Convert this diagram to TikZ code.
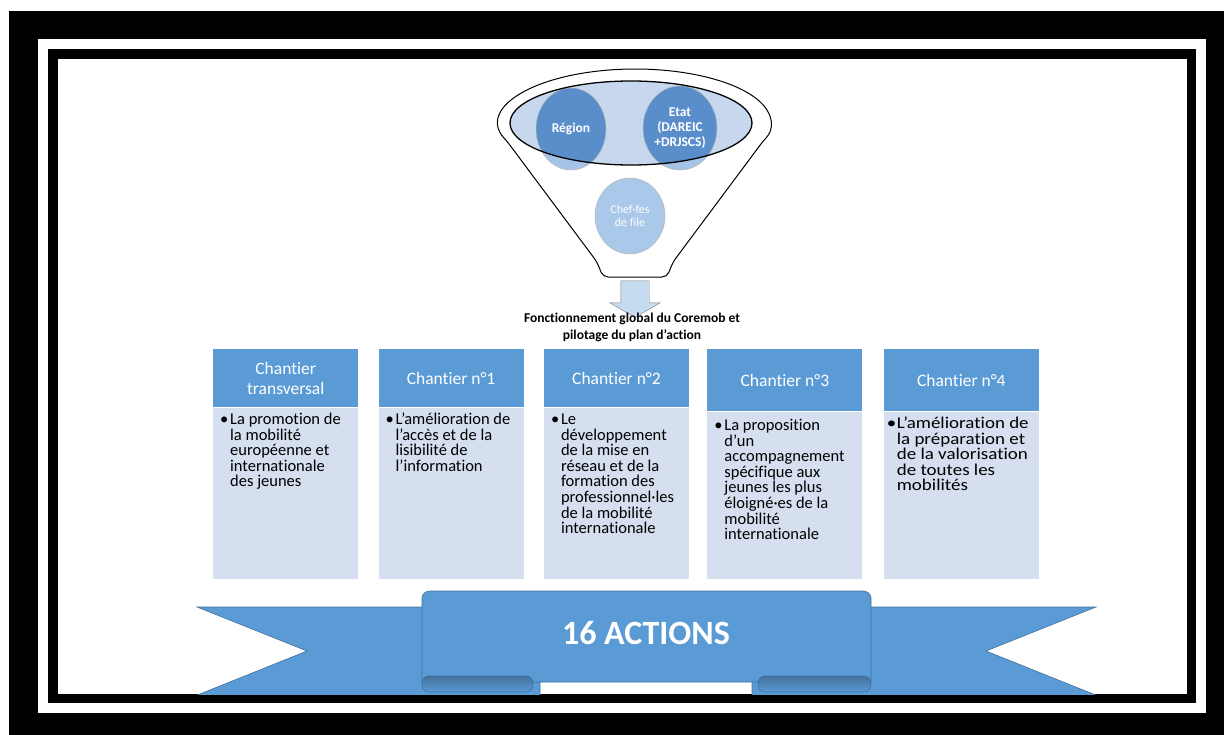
\documentclass[tikz,border=0pt]{standalone}
\usepackage{fontspec}
\setmainfont{Carlito}[Ligatures=NoCommon, Contextuals=NoAlternate]
\usepackage{xcolor}
\usepackage{tikz}
\usetikzlibrary{shapes,positioning}

\definecolor{bleu}{HTML}{5B9BD5}
\definecolor{bleufonce}{HTML}{41719C}
\definecolor{fond}{HTML}{D5DFEF}
\definecolor{disque}{HTML}{5A8ECB}
\definecolor{disqueclair}{HTML}{A5C3E6}
\definecolor{chefbleu}{HTML}{A9C8EA}
\definecolor{entonnoir}{HTML}{C7D8EE}
\definecolor{flechebleu}{HTML}{C5DCF0}

\newcommand{\puce}[1]{\makebox[10bp][l]{\textbullet}\parbox[t]{150bp}{\raggedright\lineskiplimit=-100pt\relax #1}}

\begin{document}
\begin{tikzpicture}[
    x=1bp, y=-1bp,
    entete/.style={rectangle, fill=bleu, text=white, minimum width=145bp, minimum height=58bp, inner sep=2bp, align=center, font=\fontsize{17.5bp}{20bp}\selectfont},
    corps/.style={rectangle, fill=fond, minimum width=145bp, minimum height=171bp, inner sep=0pt},
    large/.style={minimum width=155bp},
    texte/.style={anchor=base west, inner sep=0pt, xshift=7bp, yshift=-17bp, font=\fontsize{16.5bp}{15.6bp}\selectfont},
    rond/.style={ellipse, minimum width=70bp, minimum height=82bp, inner sep=0pt, draw=gray!55, line width=0.5bp, text=white, align=center, font=\bfseries\fontsize{13.5bp}{15bp}\selectfont},
    fleche/.style={single arrow, shape border rotate=270, draw=gray, fill=flechebleu, minimum height=26bp, inner sep=14bp, single arrow head extend=11bp, single arrow tip angle=120},
    legende/.style={align=center, inner sep=0pt, font=\bfseries\fontsize{13.5bp}{17bp}\selectfont},
    ruban/.style={fill=bleu, draw=bleufonce, line width=0.6bp},
    titre/.style={text=white, font=\bfseries\fontsize{34bp}{40bp}\selectfont}
]
    % Cadre
    \useasboundingbox (0,0) rectangle (1224,735);
    \fill[white] (0,0) rectangle (1224,735);
    \fill[black] (9,11) rectangle (1224,735);
    \fill[white] (38,39) rectangle (1206,713);
    \fill[black] (48,49) rectangle (1196,703);
    \fill[white] (58,59) rectangle (1187,694);

    % Entonnoir
    \draw[fill=white, line width=1bp, rounded corners=5bp] (603,277) -- (597,262) -- (507.2,141.5)
        arc[start angle=160, end angle=380, x radius=136, y radius=54] -- (673,262) -- (667,277) -- cycle;
    \fill[entonnoir] (631,123) ellipse [x radius=121, y radius=42];

    \coordinate (creg) at (571,129);
    \coordinate (cetat) at (680,128);
    \fill[disqueclair] (creg) ellipse [x radius=35, y radius=41];
    \fill[disqueclair] (cetat) ellipse [x radius=37, y radius=42];
    \begin{scope}
        \clip (631,123) ellipse [x radius=121, y radius=42];
        \fill[disque] (creg) ellipse [x radius=35, y radius=41];
        \fill[disque] (cetat) ellipse [x radius=37, y radius=42];
    \end{scope}

    \node[rond] (reg) at (creg) {Région};
    \node[rond, minimum width=74bp, minimum height=84bp] (etat) at (cetat) {Etat\\(DAREIC\\+DRJSCS)};
    \node[rond, fill=chefbleu, minimum height=76bp, font=\fontsize{12bp}{13.5bp}\selectfont] (chef) at (630,216) {Chef·fes\\de file};
    \draw[line width=1.3bp] (631,123) ellipse [x radius=121, y radius=42];

    \node[fleche] (fl) at (635,295) {};
    \node[legende] (leg) at (632,327) {Fonctionnement global du Coremob et\\pilotage du plan d’action};

    % Chantiers
    \node[entete, anchor=north west] (h1) at (213,349) {Chantier\\transversal};
    \node[entete, right=20bp of h1.north east, anchor=north west] (h2) {Chantier n°1};
    \node[entete, right=20bp of h2.north east, anchor=north west] (h3) {Chantier n°2};
    \node[entete, large, minimum height=62bp, right=18bp of h3.north east, anchor=north west] (h4) {Chantier n°3};
    \node[entete, large, minimum height=62bp, right=21bp of h4.north east, anchor=north west] (h5) {Chantier n°4};

    \node[corps, below=0bp of h1.south west, anchor=north west] (b1) {};
    \node[corps, below=0bp of h2.south west, anchor=north west] (b2) {};
    \node[corps, below=0bp of h3.south west, anchor=north west] (b3) {};
    \node[corps, large, minimum height=167bp, below=0bp of h4.south west, anchor=north west] (b4) {};
    \node[corps, large, minimum height=167bp, below=0bp of h5.south west, anchor=north west] (b5) {};

    \node[texte] (t1) at (b1.north west) {\puce{La promotion de\\la mobilité\\européenne et\\internationale\\des jeunes}};
    \node[texte] (t2) at (b2.north west) {\puce{L’amélioration de\\l’accès et de la\\lisibilité de\\l’information}};
    \node[texte] (t3) at (b3.north west) {\puce{Le\\développement\\de la mise en\\réseau et de la\\formation des\\professionnel·les\\de la mobilité\\internationale}};
    \node[texte, yshift=-2bp] (t4) at (b4.north west) {\puce{La proposition\\d’un\\accompagnement\\spécifique aux\\jeunes les plus\\éloigné·es de la\\mobilité\\internationale}};
    \node[texte, xshift=-4bp] (t5) at (b5.north west) {\addfontfeatures{FakeStretch=1.15}\puce{L’amélioration de\\la préparation et\\de la valorisation\\de toutes les\\mobilités}};

    % Ruban
    \begin{scope}
        \clip (58,59) rectangle (1187,694);
        \filldraw[ruban] (197,607) -- (540,607) -- (540,700) -- (185,700) -- (307,651) -- cycle;
        \filldraw[ruban] (1096,607) -- (752,607) -- (752,700) -- (1108,700) -- (986,651) -- cycle;
        \filldraw[ruban] (422,682) -- (422,598) to[out=90, in=180] (430,591) -- (863,591)
            to[out=0, in=90] (871,598) -- (871,682) -- cycle;
        \shadedraw[top color=bleufonce, bottom color=bleu, draw=bleufonce, line width=0.6bp, rounded corners=7bp] (422,676) rectangle (533,692);
        \shadedraw[top color=bleufonce, bottom color=bleu, draw=bleufonce, line width=0.6bp, rounded corners=7bp] (758,676) rectangle (871,692);
        \node[titre] (act) at (646,633) {16 ACTIONS};
    \end{scope}
\end{tikzpicture}
\end{document}
